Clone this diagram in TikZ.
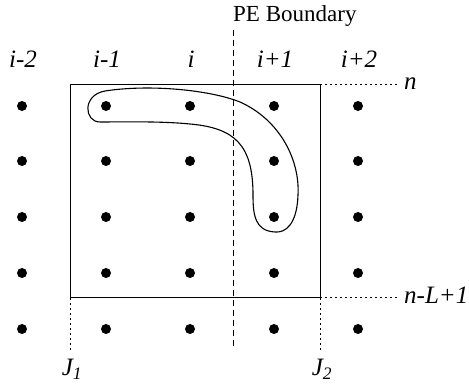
\documentclass[tikz,border=0pt]{standalone}
\usepackage{fontspec}
\setmainfont{Liberation Serif}
\usetikzlibrary{positioning, calc}

\begin{document}
\begin{tikzpicture}[
        x=1pt, y=-1pt,
        font=\fontsize{23}{28}\selectfont,
        dot/.style={circle, fill, inner sep=0pt, minimum size=10pt},
        lab/.style={inner sep=1pt, font=\fontsize{25}{30}\selectfont\itshape},
        box/.style={line width=1pt},
        guide/.style={line width=1pt, dash pattern=on 2pt off 3pt},
        border/.style={line width=1pt, dash pattern=on 6pt off 4pt},
        loop/.style={line width=1.1pt},
    ]
        \useasboundingbox (0,0) rectangle (469,387);

        % Grid of points
        \foreach \c [count=\ci] in {22,106,190,274,358}
            \foreach \r [count=\ri] in {106,161,217,273,329}
                \node[dot] (p\ci\ri) at (\c,\r) {};

        % Column labels
        \node[lab, anchor=base] (cm2) at (23,68) {i-2};
        \node[lab, anchor=base] (cm1) at (107,68) {i-1};
        \node[lab, anchor=base] (c0) at (191,68) {i};
        \node[lab, anchor=base] (cp1) at (275,68) {i+1};
        \node[lab, anchor=base] (cp2) at (359,68) {i+2};

        % Window
        \coordinate (wnw) at (70,85);
        \coordinate (wse) at (320,298);
        \coordinate (wne) at (wse |- wnw);
        \coordinate (wsw) at (wnw |- wse);
        \draw[box] (wnw) rectangle (wse);

        % Row labels
        \node[lab, anchor=base west] (rtop) at (403,90) {n};
        \node[lab, anchor=base west] (rbot) at (403,304) {n-L+1};
        \draw[guide, shorten >=6pt] (wne) -- (wne -| rtop.west);
        \draw[guide, shorten >=6pt] (wse) -- (wse -| rbot.west);

        % Column bounds
        \node[lab, anchor=base] (j1) at (72,376) {J\textsubscript{1}};
        \node[lab, anchor=base] (j2) at (322,376) {J\textsubscript{2}};
        \draw[guide, shorten >=6pt] (wsw) -- (wsw |- j1.north);
        \draw[guide, shorten >=6pt] (wse) -- (wse |- j2.north);

        % PE boundary
        \node[anchor=base west, inner sep=0pt] (pe) at (233,22) {PE Boundary};
        \coordinate (pebot) at (233,350);
        \draw[border] ([yshift=-3pt]pe.south west) -- (pebot);

        % Stencil outline
        \draw[loop] (100,122) .. controls (84,122) and (82,95) .. (105,91)
            .. controls (150,84) and (210,90) .. (240,102)
            .. controls (280,120) and (300,160) .. (298,195)
            .. controls (297,225) and (285,233) .. (275,232)
            .. controls (255,231) and (253,215) .. (253,195)
            .. controls (253,145) and (235,128) .. (190,124)
            .. controls (160,121) and (120,122) .. cycle;
\end{tikzpicture}
\end{document}
